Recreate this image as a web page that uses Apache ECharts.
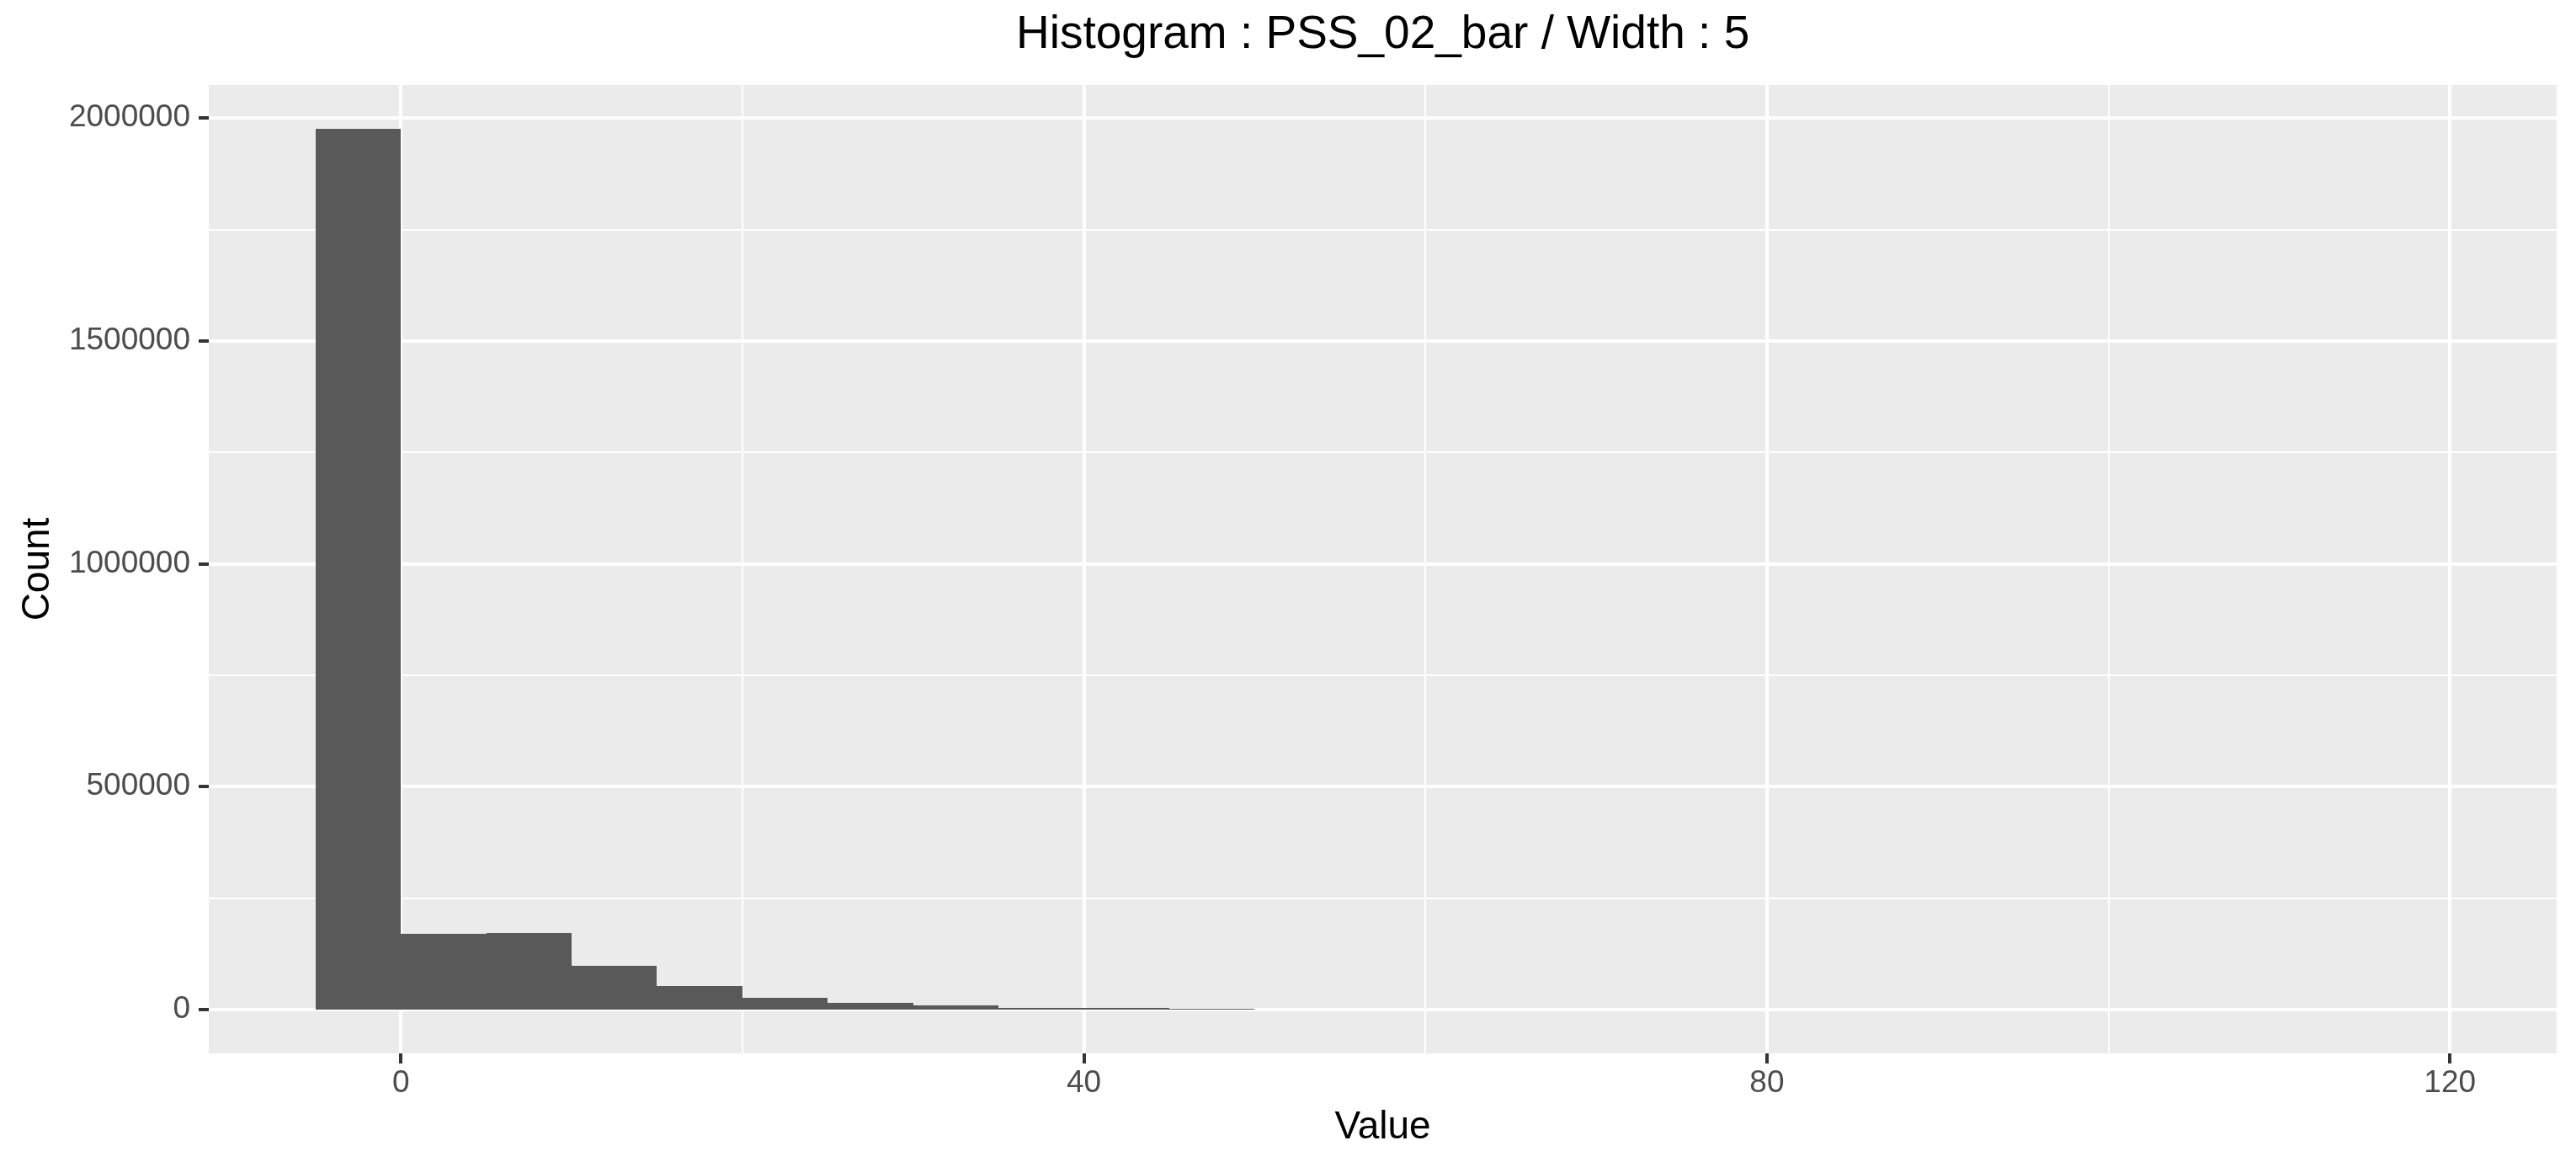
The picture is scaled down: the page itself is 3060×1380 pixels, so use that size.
<!DOCTYPE html>
<html>
<head>
<meta charset="utf-8">
<script src="https://cdn.jsdelivr.net/npm/echarts@6/dist/echarts.min.js"></script>
<style>
html,body{margin:0;padding:0;background:#fff;}
#chart{width:3060px;height:1380px;}
</style>
</head>
<body>
<div id="chart"></div>
<script>
// Histogram bins (width 5)
const binStarts = [-5, 0, 5, 10, 15, 20, 25, 30, 35, 40, 45, 50, 55, 60, 65, 70, 75, 80, 85, 90, 95, 100, 105, 110, 115];
const binCounts = [1975000, 169400, 171300, 97600, 52900, 25900, 14800, 9200, 3800, 3600, 2000, 0, 0, 0, 0, 0, 0, 0, 0, 0, 0, 0, 0, 0, 10];
const binWidth = 5;

// Axis ticks
const xMajorTicks = [0, 40, 80, 120];
const xMinorTicks = [20, 60, 100];
const yMajorTicks = [0, 500000, 1000000, 1500000, 2000000];
const yMinorTicks = [250000, 750000, 1250000, 1750000];
const xRange = [-11.25, 126.25];
const yRange = [-98750, 2073750];

const titleText = 'Histogram : PSS_02_bar / Width : 5';
const xTitle = 'Value';
const yTitle = 'Count';

const histData = binStarts.map((s, i) => [s, s + binWidth, binCounts[i]]);

const gridLines = []
  .concat(xMinorTicks.map(v => ({xAxis: v, lineStyle: {width: 2, color: '#ffffff', type: 'solid'}})))
  .concat(yMinorTicks.map(v => ({yAxis: v, lineStyle: {width: 2, color: '#ffffff', type: 'solid'}})))
  .concat(xMajorTicks.map(v => ({xAxis: v, lineStyle: {width: 4, color: '#ffffff', type: 'solid'}})))
  .concat(yMajorTicks.map(v => ({yAxis: v, lineStyle: {width: 4, color: '#ffffff', type: 'solid'}})));

const FONT = '"Liberation Sans", Arial, sans-serif';

const chart = echarts.init(document.getElementById('chart'), null, {renderer: 'canvas'});
chart.setOption({
  animation: false,
  backgroundColor: '#ffffff',
  title: {
    text: titleText,
    left: 1207,
    top: 14,
    padding: 0,
    textStyle: {fontFamily: FONT, fontSize: 55, fontWeight: 'normal', color: '#000000'}
  },
  grid: {
    left: 248, right: 23, top: 101, bottom: 129,
    show: true, backgroundColor: '#EBEBEB', borderWidth: 0, containLabel: false
  },
  xAxis: {
    type: 'value',
    min: xRange[0], max: xRange[1],
    name: xTitle, nameLocation: 'middle', nameGap: 65,
    nameTextStyle: {fontFamily: FONT, fontSize: 46, color: '#000000'},
    axisLine: {show: false, onZero: false},
    axisTick: {show: true, inside: false, length: 12, lineStyle: {color: '#333333', width: 4}, customValues: xMajorTicks},
    axisLabel: {fontFamily: FONT, fontSize: 37, color: '#4D4D4D', margin: 17, customValues: xMajorTicks,
      formatter: v => String(v)},
    splitLine: {show: false}
  },
  yAxis: {
    type: 'value',
    min: yRange[0], max: yRange[1],
    name: yTitle, nameLocation: 'middle', nameGap: 180, nameRotate: 90,
    nameTextStyle: {fontFamily: FONT, fontSize: 46, color: '#000000'},
    axisLine: {show: false, onZero: false},
    axisTick: {show: true, inside: false, length: 12, lineStyle: {color: '#333333', width: 4}, customValues: yMajorTicks},
    axisLabel: {fontFamily: FONT, fontSize: 37, color: '#4D4D4D', margin: 22, customValues: yMajorTicks,
      formatter: v => String(v)},
    splitLine: {show: false}
  },
  series: [
    {
      type: 'line',
      data: [[0, 0]],
      showSymbol: false,
      symbolSize: 0,
      lineStyle: {opacity: 0},
      silent: true,
      z: 1,
      markLine: {
        silent: true,
        symbol: ['none', 'none'],
        label: {show: false},
        z: 1,
        animation: false,
        data: gridLines
      }
    },
    {
      type: 'custom',
      z: 10,
      data: histData,
      encode: {x: [0, 1], y: 2},
      renderItem: function (params, api) {
        const x0 = api.value(0), x1 = api.value(1), c = api.value(2);
        const p0 = api.coord([x0, c]);
        const p1 = api.coord([x1, 0]);
        const left = Math.round(p0[0]), right = Math.round(p1[0]);
        const top = Math.round(p0[1]), bottom = Math.round(p1[1]);
        return {
          type: 'rect',
          shape: {x: left, y: top, width: right - left, height: bottom - top},
          style: {fill: '#595959', stroke: null}
        };
      }
    }
  ]
});
</script>
</body>
</html>
